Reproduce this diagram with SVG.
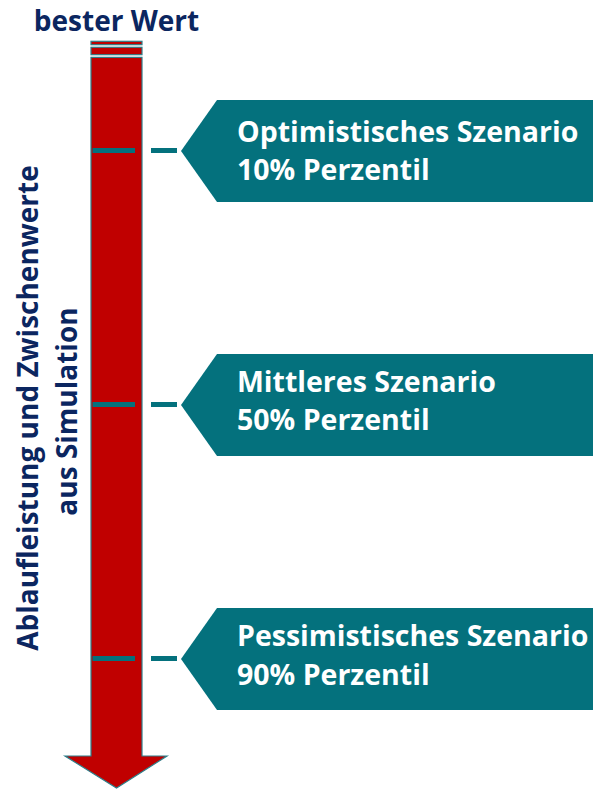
<svg xmlns="http://www.w3.org/2000/svg" width="593" height="789" viewBox="0 0 593 789">
<style>
.bar{fill:#C00000;stroke:#2E7F8A;stroke-width:1.2}
.tick{stroke:#04717D;stroke-width:5}
.call{fill:#04717D}
.ct{font-family:"Open Sans","Noto Sans",sans-serif;font-weight:700;font-size:28.5px;fill:#ffffff}
.nv{font-family:"Open Sans","Noto Sans",sans-serif;font-weight:700;font-size:28px;fill:#0B2660}
</style>
<rect width="593" height="789" fill="#ffffff"/>
<g id="title"><text class="nv" x="116.5" y="31" text-anchor="middle">bester Wert</text></g>
<g id="axis-label">
<text class="nv" transform="translate(38,408) rotate(-90)" text-anchor="middle">Ablaufleistung und Zwischenwerte</text>
<text class="nv" transform="translate(77,411.5) rotate(-90)" text-anchor="middle">aus Simulation</text>
</g>
<g id="arrow">
<rect class="bar" x="91" y="41.3" width="51" height="3.4"/>
<rect class="bar" x="91" y="47.3" width="51" height="7.4"/>
<polygon class="bar" points="91,57.3 142,57.3 142,756 167,756 116.5,788 65,756 91,756"/>
</g>
<g id="connectors">
<line class="tick" x1="92.5" y1="150.5" x2="135" y2="150.5"/>
<line class="tick" x1="151" y1="150.5" x2="177" y2="150.5"/>
<line class="tick" x1="92.5" y1="404.5" x2="135" y2="404.5"/>
<line class="tick" x1="151" y1="404.5" x2="177" y2="404.5"/>
<line class="tick" x1="92.5" y1="658.5" x2="135" y2="658.5"/>
<line class="tick" x1="151" y1="658.5" x2="177" y2="658.5"/>
</g>
<g id="optimistic">
<polygon class="call" points="181,151 217,100 593,100 593,202 217,202"/>
<text class="ct" x="237" y="142">Optimistisches Szenario</text>
<text class="ct" x="237" y="180">10% Perzentil</text>
</g>
<g id="middle">
<polygon class="call" points="181,405 217,354 593,354 593,456 217,456"/>
<text class="ct" x="237" y="392">Mittleres Szenario</text>
<text class="ct" x="237" y="430">50% Perzentil</text>
</g>
<g id="pessimistic">
<polygon class="call" points="181,659 217,608 593,608 593,710 217,710"/>
<text class="ct" x="237" y="646">Pessimistisches Szenario</text>
<text class="ct" x="237" y="685">90% Perzentil</text>
</g>
</svg>
